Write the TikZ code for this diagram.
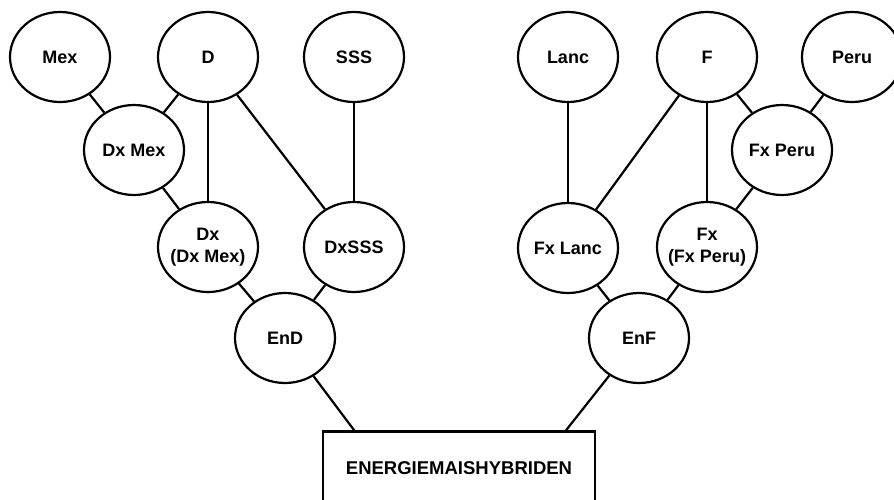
\documentclass[tikz,border=0pt]{standalone}
\usepackage{fontspec}
\setmainfont{Liberation Sans}
\usepackage{tikz}
\usetikzlibrary{shapes.geometric, positioning, calc}

\begin{document}
\begin{tikzpicture}[
    x=1pt, y=-1pt, on grid,
    cross/.style={ellipse, draw, line width=2.2pt,
                  minimum width=100pt, minimum height=90pt,
                  inner xsep=-6pt, inner ysep=0pt, align=center,
                  font=\fontsize{18}{22}\selectfont\bfseries},
    hyb/.style={rectangle, draw, line width=2.2pt,
                minimum width=272pt, minimum height=73pt,
                font=\fontsize{18.5}{22}\selectfont\bfseries},
    link/.style={line width=2.2pt}
]
\useasboundingbox (0,0) rectangle (894,499);

%% --- D side ---
\node[cross] (mex) at (60,57) {Mex};
\node[cross, right=148pt of mex] (d)   {D};
\node[cross, right=146pt of d]   (sss) {SSS};
\node[cross, below right=93pt and 74pt of mex] (dxmex) {Dx Mex};
\node[cross, below=190pt of d]   (dxdxmex) {Dx\\(Dx Mex)};
\node[cross, below=190pt of sss] (dxsss)   {DxSSS};
\node[cross, below right=91pt and 77pt of dxdxmex] (end) {EnD};

%% --- F side ---
\node[cross] (lanc) at (568,57) {Lanc};
\node[cross, right=139pt of lanc] (f)    {F};
\node[cross, right=145pt of f]    (peru) {Peru};
\node[cross, below right=93pt and 75pt of f] (fxperu) {Fx Peru};
\node[cross, below=191pt of lanc] (fxlanc)   {Fx Lanc};
\node[cross, below=190pt of f]    (fxfxperu) {Fx\\(Fx Peru)};
\node[cross, below right=90pt and 71pt of fxlanc] (enf) {EnF};

%% --- Hybrid ---
\node[hyb] (hybrid) at (459,468) {ENERGIEMAISHYBRIDEN};
\coordinate (hl) at ($(hybrid.north west)!0.118!(hybrid.north east)$);
\coordinate (hr) at ($(hybrid.north east)!0.11!(hybrid.north west)$);

%% --- Links ---
\draw[link] (mex)     -- (dxmex);
\draw[link] (d)       -- (dxmex);
\draw[link] (d)       -- (dxdxmex);
\draw[link] (d)       -- (dxsss);
\draw[link] (sss)     -- (dxsss);
\draw[link] (dxmex)   -- (dxdxmex);
\draw[link] (dxdxmex) -- (end);
\draw[link] (dxsss)   -- (end);
\draw[link] (end)     -- (hl);

\draw[link] (lanc)     -- (fxlanc);
\draw[link] (f)        -- (fxlanc);
\draw[link] (f)        -- (fxfxperu);
\draw[link] (f)        -- (fxperu);
\draw[link] (peru)     -- (fxperu);
\draw[link] (fxperu)   -- (fxfxperu);
\draw[link] (fxlanc)   -- (enf);
\draw[link] (fxfxperu) -- (enf);
\draw[link] (enf)      -- (hr);

\end{tikzpicture}
\end{document}
